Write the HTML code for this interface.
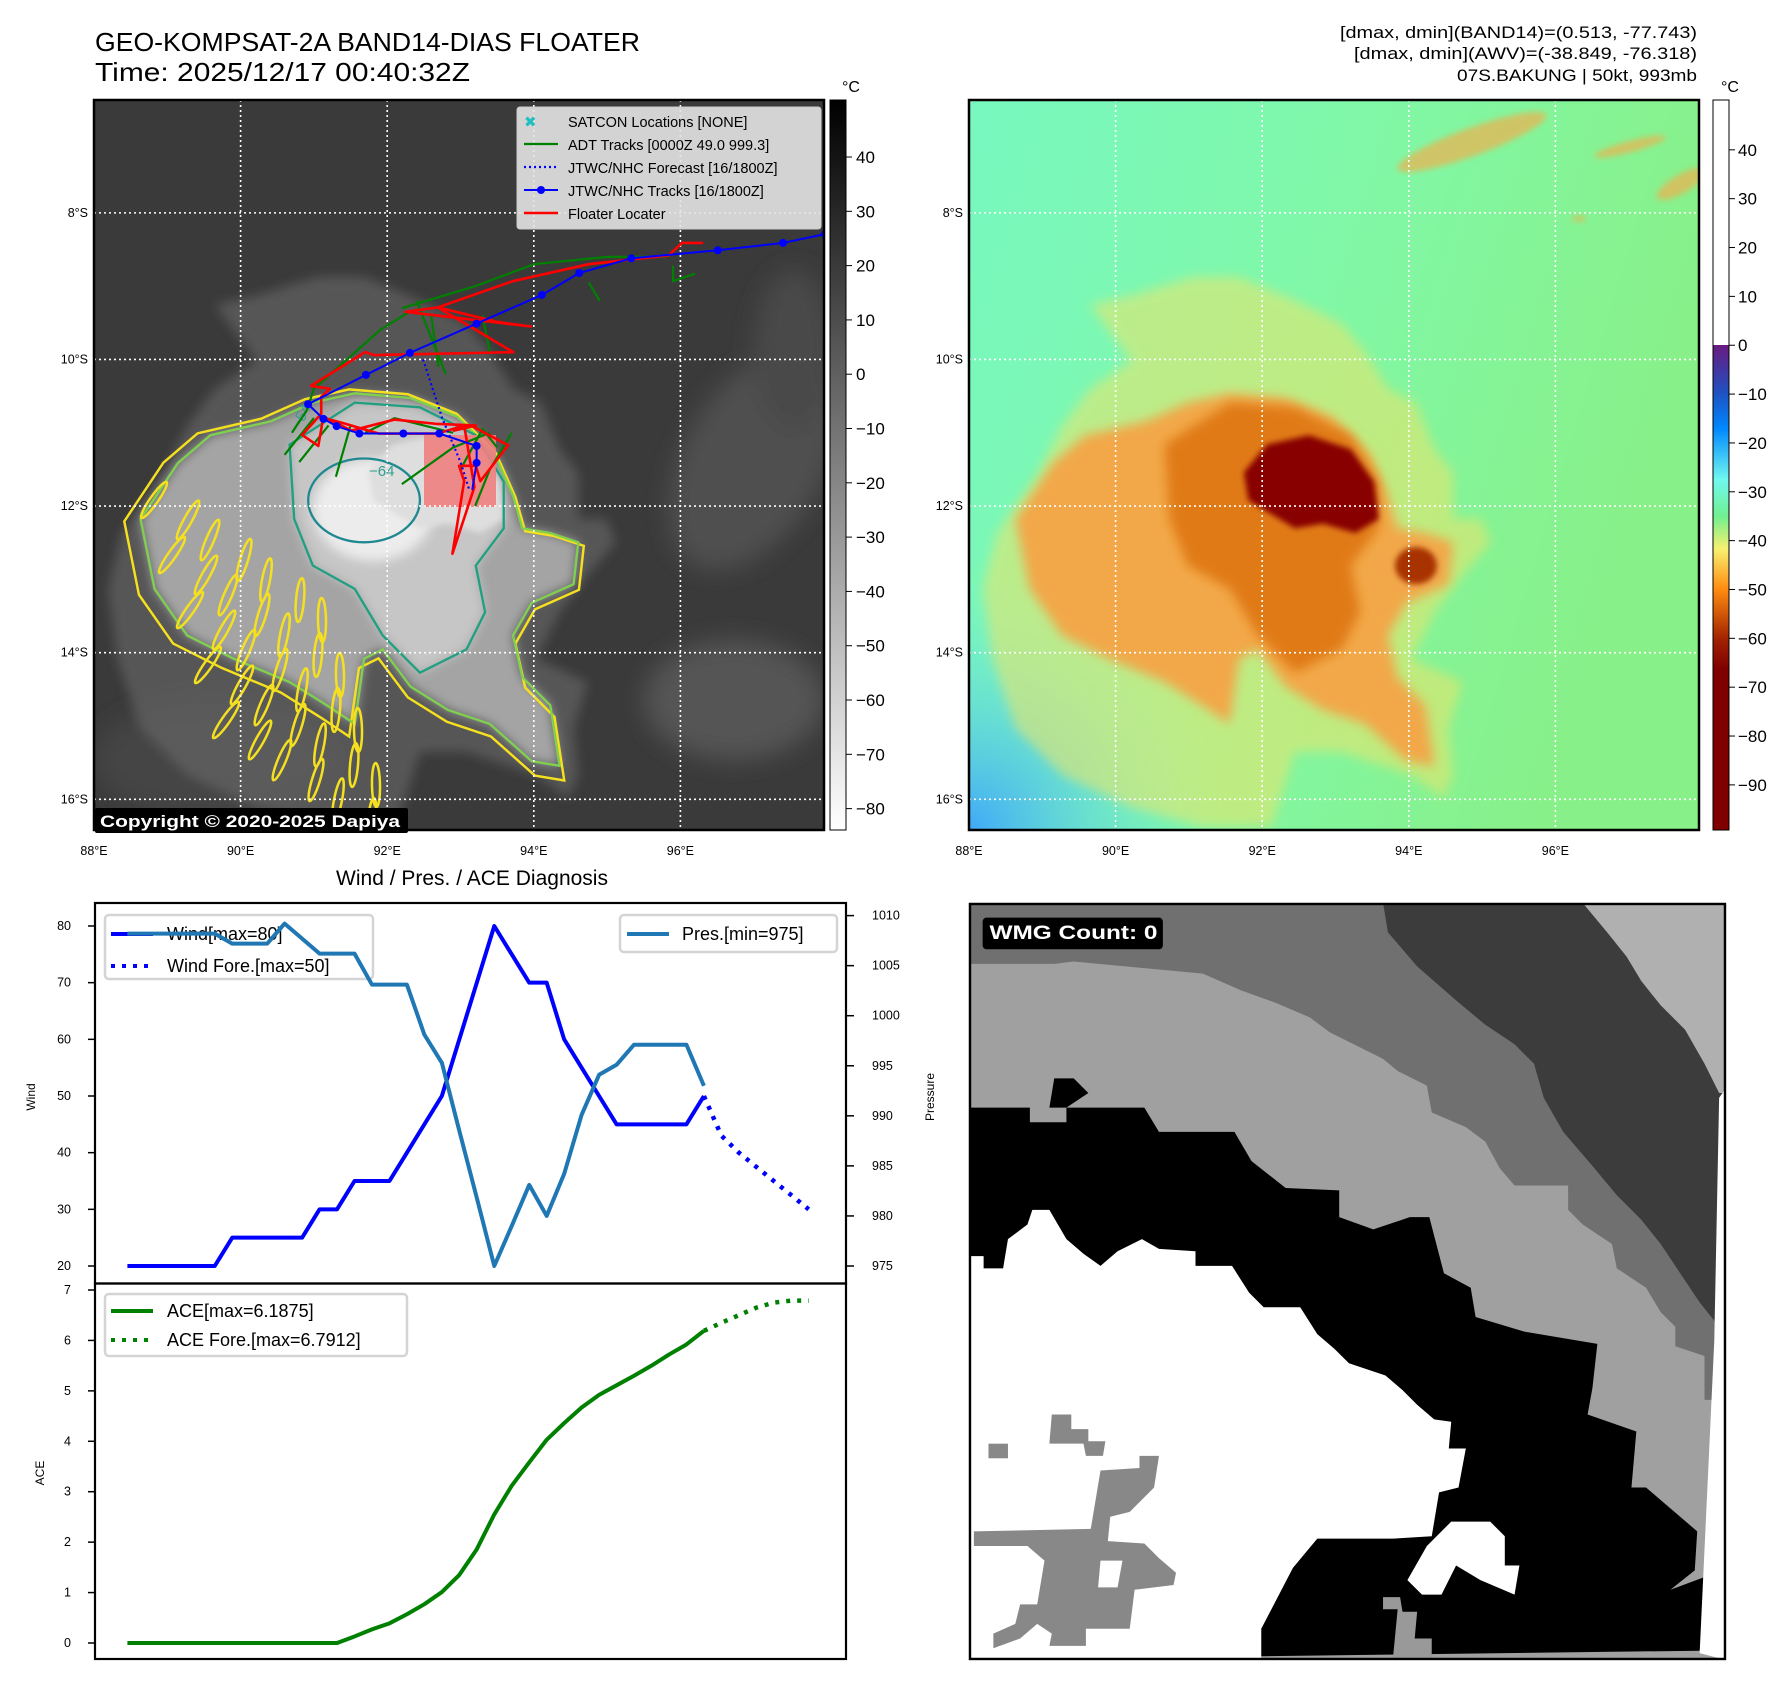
<!DOCTYPE html>
<html><head><meta charset="utf-8">
<style>
html,body{margin:0;padding:0;background:#fff;}
svg{display:block;font-family:"Liberation Sans","DejaVu Sans",sans-serif;}
</style></head>
<body>
<svg id="fig" width="1788" height="1690" viewBox="0 0 1788 1690" xmlns="http://www.w3.org/2000/svg">
<defs>
  <clipPath id="mapclip"><rect x="0" y="0" width="730" height="730"/></clipPath>
  <clipPath id="wmgclip"><rect x="0" y="0" width="1554" height="1554"/></clipPath>
  <filter id="blur6" x="-20%" y="-20%" width="140%" height="140%"><feGaussianBlur stdDeviation="12"/></filter>
  <filter id="blur3" x="-20%" y="-20%" width="140%" height="140%"><feGaussianBlur stdDeviation="6"/></filter>
  <linearGradient id="grayCbar" x1="0" y1="0" x2="0" y2="1"><stop offset="0" stop-color="#000"/><stop offset="1" stop-color="#fff"/></linearGradient>
  <linearGradient id="jetCbar" x1="0" y1="0" x2="0" y2="1">
    <stop offset="0" stop-color="#fff"/><stop offset="0.3357" stop-color="#fff"/>
    <stop offset="0.3358" stop-color="#6a1a80"/>
    <stop offset="0.40" stop-color="#2050c0"/>
    <stop offset="0.45" stop-color="#0088ff"/>
    <stop offset="0.52" stop-color="#70f8f0"/>
    <stop offset="0.57" stop-color="#70f090"/>
    <stop offset="0.615" stop-color="#f8f070"/>
    <stop offset="0.67" stop-color="#ff8c10"/>
    <stop offset="0.74" stop-color="#a02000"/>
    <stop offset="0.78" stop-color="#800000"/>
    <stop offset="1" stop-color="#800000"/>
  </linearGradient>
  <linearGradient id="greenBg" x1="0" y1="0" x2="1" y2="0.3">
    <stop offset="0" stop-color="#78f8c0"/><stop offset="0.5" stop-color="#80f8a8"/><stop offset="1" stop-color="#88f088"/>
  </linearGradient>
  <radialGradient id="blueCorner" cx="0" cy="1" r="0.35"><stop offset="0" stop-color="#40a8f8"/><stop offset="1" stop-color="#70f0e0" stop-opacity="0"/></radialGradient>
  <path id="fringe" d="M60,930 L150,800 200,700 260,620 350,560 260,440 350,420 480,380 580,380 700,430 800,480 850,540 900,620 960,650 1000,750 1040,800 1040,900 1100,900 1120,950 1060,1020 1000,1100 950,1200 1060,1250 1030,1350 1040,1450 1020,1500 950,1450 800,1400 700,1400 650,1560 500,1560 350,1520 200,1450 100,1350 50,1200 30,1050 Z"/>
  <path id="mainS" d="M100,900 L180,780 250,720 380,690 470,650 560,630 680,640 780,680 860,760 900,850 920,920 980,930 1040,950 1030,1040 940,1080 900,1150 920,1240 980,1300 1000,1430 940,1420 850,1340 760,1310 680,1260 620,1180 580,1200 560,1340 500,1300 420,1250 300,1200 200,1150 130,1050 Z"/>
  <path id="innerS" d="M420,740 L560,650 700,660 820,720 880,820 880,920 820,1000 840,1100 800,1180 700,1230 620,1150 560,1050 470,1000 430,900 Z"/>
  <path id="coreS" d="M590,800 L640,740 730,720 820,750 870,820 880,900 830,930 760,910 700,920 650,890 600,860 Z"/>
</defs>

<text x="95" y="51" font-size="26" textLength="545" lengthAdjust="spacingAndGlyphs">GEO-KOMPSAT-2A BAND14-DIAS FLOATER</text>
<text x="95" y="81" font-size="26" textLength="375" lengthAdjust="spacingAndGlyphs">Time: 2025/12/17 00:40:32Z</text>
<text x="1697" y="38" font-size="17" text-anchor="end" textLength="357" lengthAdjust="spacingAndGlyphs">[dmax, dmin](BAND14)=(0.513, -77.743)</text>
<text x="1697" y="59" font-size="17" text-anchor="end" textLength="343" lengthAdjust="spacingAndGlyphs">[dmax, dmin](AWV)=(-38.849, -76.318)</text>
<text x="1697" y="81" font-size="17" text-anchor="end" textLength="240" lengthAdjust="spacingAndGlyphs">07S.BAKUNG | 50kt, 993mb</text>

<g id="leftMap" transform="translate(94,100)">
  <g clip-path="url(#mapclip)">
    <rect width="730" height="730" fill="#3a3a3a"/>
    <g filter="url(#blur6)">
      <ellipse cx="660" cy="360" rx="70" ry="120" fill="#505050" transform="rotate(30 660 360)"/>
      <ellipse cx="640" cy="600" rx="90" ry="60" fill="#555"/>
      <ellipse cx="700" cy="250" rx="40" ry="80" fill="#484848"/>
      <ellipse cx="120" cy="660" rx="120" ry="60" fill="#454545"/>
    </g>
    <g transform="scale(0.4656)">
      <use href="#fringe" fill="#6a6a6a" opacity="0.6" filter="url(#blur6)"/>
      <use href="#mainS" fill="#a4a4a4" filter="url(#blur6)"/>
      <use href="#innerS" fill="#c6c6c6" filter="url(#blur6)"/>
      <ellipse cx="600" cy="880" rx="130" ry="110" fill="#ececec" filter="url(#blur6)"/>
      <use href="#coreS" fill="#dedede" filter="url(#blur3)"/>
    </g>
    <g transform="scale(0.4656)" fill="none">
      <use href="#mainS" stroke="#f5e020" stroke-width="5" transform="translate(-40,-40) scale(1.05)"/>
      <use href="#mainS" stroke="#80d050" stroke-width="5"/>
      <use href="#innerS" stroke="#20a080" stroke-width="5"/>
      <ellipse cx="580" cy="860" rx="120" ry="90" stroke="#208890" stroke-width="5"/>
    </g>
    <g id="streaks" fill="none" stroke="#f5e020" stroke-width="2.5"></g>
    <text x="205" y="330" font-size="15" fill="#30a090" transform="rotate(-60 205 330)">−54</text>
    <text x="275" y="376" font-size="15" fill="#30a090">−64</text>
    <rect x="330" y="335" width="72" height="72" fill="#f08080" opacity="0.9"/>
    <g id="leftGrid"></g>
    <g id="tracks"></g>
  </g>
  <rect x="0" y="0" width="730" height="730" fill="none" stroke="#000" stroke-width="2.5"/>
  <rect x="1" y="708" width="313" height="25" rx="2" fill="#000"/>
  <text x="6" y="727" font-size="17" font-weight="bold" fill="#fff" textLength="300" lengthAdjust="spacingAndGlyphs">Copyright © 2020-2025 Dapiya</text>
  <g>
    <rect x="423" y="7" width="304" height="122" rx="3" fill="#e4e4e4" fill-opacity="0.9" stroke="#ccc"/>
    <text x="430" y="27" font-size="15" fill="#20c0c0">✖</text>
    <text x="474" y="27" font-size="14.5">SATCON Locations [NONE]</text>
    <line x1="430" y1="44" x2="464" y2="44" stroke="#008000" stroke-width="2.2"/>
    <text x="474" y="50" font-size="14.5">ADT Tracks [0000Z 49.0 999.3]</text>
    <line x1="430" y1="67" x2="464" y2="67" stroke="#0000ff" stroke-width="2.2" stroke-dasharray="2,3"/>
    <text x="474" y="73" font-size="14.5">JTWC/NHC Forecast [16/1800Z]</text>
    <line x1="430" y1="90" x2="464" y2="90" stroke="#0000ff" stroke-width="2"/>
    <circle cx="447" cy="90" r="4" fill="#0000ff"/>
    <text x="474" y="96" font-size="14.5">JTWC/NHC Tracks [16/1800Z]</text>
    <line x1="430" y1="113" x2="464" y2="113" stroke="#ff0000" stroke-width="2.5"/>
    <text x="474" y="119" font-size="14.5">Floater Locater</text>
  </g>
  <g id="leftTicks"></g>
</g>
<rect x="830" y="100" width="16" height="730" fill="url(#grayCbar)" stroke="#000" stroke-width="1"/>
<text x="842" y="92" font-size="16">°C</text>
<g id="leftCbarTicks"></g>

<g id="rightMap" transform="translate(969,100)">
  <g clip-path="url(#mapclip)">
    <rect width="730" height="730" fill="url(#greenBg)"/>
    <rect width="730" height="730" fill="url(#blueCorner)"/>
    <g transform="scale(0.4656)">
      <use href="#fringe" fill="#f0e46a" opacity="0.55" filter="url(#blur6)"/>
      <use href="#mainS" fill="#f2a848" filter="url(#blur6)"/>
      <use href="#innerS" fill="#e07a18" filter="url(#blur6)"/>
      <use href="#coreS" fill="#880000" filter="url(#blur3)"/>
      <ellipse cx="960" cy="1000" rx="45" ry="40" fill="#a83000" filter="url(#blur3)"/>
      <g fill="#f0b050" opacity="0.7" filter="url(#blur3)">
        <ellipse cx="1080" cy="90" rx="170" ry="30" transform="rotate(-20 1080 90)"/>
        <ellipse cx="1420" cy="100" rx="80" ry="12" transform="rotate(-15 1420 100)"/>
        <ellipse cx="1530" cy="180" rx="60" ry="20" transform="rotate(-30 1530 180)"/>
        <ellipse cx="1310" cy="255" rx="15" ry="6"/>
      </g>
    </g>
    <g id="rightGrid"></g>
  </g>
  <rect x="0" y="0" width="730" height="730" fill="none" stroke="#000" stroke-width="2.5"/>
  <g id="rightTicks"></g>
</g>
<rect x="1713" y="100" width="16" height="730" fill="url(#jetCbar)" stroke="#000" stroke-width="1"/>
<text x="1721" y="92" font-size="16">°C</text>
<g id="rightCbarTicks"></g>

<text x="472" y="885" font-size="21" text-anchor="middle">Wind / Pres. / ACE Diagnosis</text>
<g id="chart"></g>

<g transform="translate(969,903) scale(0.4871)">
  <g clip-path="url(#wmgclip)">
    <rect width="1554" height="1554" fill="#3c3c3c"/>
    <polygon fill="#707070" points="0,0 850,0 860,60 920,130 1000,200 1060,250 1120,290 1160,330 1180,400 1220,470 1280,540 1330,600 1380,650 1420,700 1460,760 1500,820 1540,870 1554,870 1554,1554 0,1554"/>
    <polygon fill="#b0b0b0" points="1260,0 1554,0 1554,390 1540,390 1510,330 1470,260 1420,210 1380,160 1350,110 1310,60"/>
    <polygon fill="#a0a0a0" points="0,125 175,125 215,120 480,145 560,180 630,205 700,235 740,265 850,320 880,345 940,375 950,430 1020,460 1060,490 1090,545 1120,580 1230,580 1230,630 1260,660 1320,700 1330,750 1390,790 1420,840 1450,870 1450,910 1510,930 1510,1020 1554,1020 1554,1554 0,1554"/>
    <polygon fill="#000" points="0,420 125,420 125,450 200,450 200,420 245,390 215,360 175,360 165,420 360,420 390,470 545,470 580,530 650,585 760,590 760,645 830,670 905,645 945,645 975,760 1030,790 1040,850 1140,880 1290,905 1280,995 1270,1050 1370,1085 1360,1200 1390,1200 1460,1260 1495,1290 1490,1370 1440,1410 1520,1380 1500,1535 0,1554"/>
    <polygon fill="#fff" points="0,725 30,725 30,750 70,750 80,690 120,660 130,630 165,630 200,690 235,720 270,745 305,715 355,690 390,710 465,715 465,745 540,745 575,800 605,830 680,830 715,885 750,915 780,945 855,970 890,1000 920,1030 955,1060 990,1065 985,1120 1020,1120 1005,1200 965,1210 950,1300 870,1305 715,1305 665,1365 600,1490 600,1554 0,1554"/>
    <polygon fill="#fff" points="990,1270 1070,1270 1100,1300 1100,1360 1130,1360 1120,1420 1050,1390 1000,1360 970,1420 930,1420 900,1390 940,1320"/>
    <polygon fill="#fff" points="1554,380 1540,400 1530,900 1500,1540 1554,1554"/>
    <polygon fill="#888" points="350,1135 390,1135 380,1200 330,1250 290,1260 285,1310 360,1315 390,1345 425,1375 420,1400 340,1410 330,1490 240,1490 240,1525 165,1525 170,1500 140,1480 105,1510 50,1530 50,1500 95,1480 105,1440 140,1440 155,1350 120,1320 10,1320 10,1290 250,1285 270,1165 350,1160"/>
    <polygon fill="#fff" points="270,1350 315,1350 305,1405 265,1405"/>
    <polygon fill="#888" points="170,1050 210,1050 210,1080 245,1080 245,1105 280,1105 275,1135 240,1135 235,1110 165,1110"/>
    <rect x="40" y="1110" width="40" height="30" fill="#888"/>
    <polygon fill="#999" points="850,1425 885,1425 890,1455 920,1455 915,1510 950,1510 950,1554 870,1554 880,1450 850,1450"/>
  </g>
  <rect x="2" y="2" width="1550" height="1550" fill="none" stroke="#000" stroke-width="5"/>
  <rect x="28" y="30" width="370" height="65" rx="8" fill="#000"/>
  <text x="42" y="74" font-size="40" font-weight="bold" fill="#fff" textLength="345" lengthAdjust="spacingAndGlyphs">WMG Count: 0</text>
</g>
</svg>

<script>
const windIdx = [0,1,2,3,4,5,6,7,8,9,10,11,12,13,14,15,16,17,18,19,20,21,22,23,24,25,26,27,28,29,30,31,32,33];
const windVals = [20,20,20,20,20,20,25,25,25,25,25,30,30,35,35,35,40,45,50,60,70,80,75,70,70,60,55,50,45,45,45,45,45,50];
const windForeIdx = [33,34,35,36,37,38,39];
const windForeVals = [50,43,40,37.5,35,32.5,30];
const presVals = [1008.2,1008.2,1008.2,1008.2,1008.2,1008.2,1007.2,1007.2,1007.2,1009.2,1007.7,1006.2,1006.2,1006.2,1003.1,1003.1,1003.1,998.1,995.3,988.5,981.8,975,979,983.1,980,984.2,990.1,994.1,995.1,997.1,997.1,997.1,997.1,993];
const aceVals = [0,0,0,0,0,0,0,0,0,0,0,0,0,0.13,0.27,0.39,0.57,0.77,1.01,1.35,1.86,2.55,3.12,3.58,4.03,4.36,4.67,4.92,5.11,5.30,5.50,5.72,5.92,6.19];
const aceForeVals = [6.19,6.35,6.5,6.65,6.75,6.79,6.79];
const windTicks = [20,30,40,50,60,70,80];
const presTicks = [975,980,985,990,995,1000,1005,1010];
const aceTicks = [0,1,2,3,4,5,6,7];

const lonTicks = [88,90,92,94,96];
const latTicks = [8,10,12,14,16];
const irCbarTicks = [40,30,20,10,0,-10,-20,-30,-40,-50,-60,-70,-80];
const awvCbarTicks = [40,30,20,10,0,-10,-20,-30,-40,-50,-60,-70,-80,-90];
const jtwcLon = [97.97,97.40,96.51,95.33,94.62,94.11,93.22,92.31,91.71,90.92,91.13,91.31,91.62,92.22,92.71,93.22,93.22];
const jtwcLat = [8.29,8.41,8.51,8.62,8.82,9.12,9.51,9.91,10.21,10.61,10.81,10.91,11.01,11.01,11.01,11.18,11.41];
const fcLon = [92.49,92.75,93.0,93.12];
const fcLat = [10.0,10.8,11.4,11.78];
const floaterLon = [96.31,96.02,95.84,94.75,93.72,92.69,92.25,93.96,93.52,92.69,93.72,91.82,91.70,90.96,91.22,91.10,91.10,90.84,91.06,91.13,91.51,92.10,92.69,93.21,92.91,93.14,93.65,93.27,93.21,92.98,93.05,92.89,93.19,93.05,92.69,92.25,91.88,91.37,91.06];
const floaterLat = [8.41,8.41,8.58,8.70,8.93,9.29,9.35,9.55,9.49,9.29,9.90,9.94,9.90,10.36,10.40,10.51,10.74,11.03,11.18,10.78,10.97,10.82,10.88,10.90,10.97,10.90,11.17,11.66,11.45,11.45,11.66,12.65,11.74,10.90,11.01,11.01,11.01,10.86,10.78];
const adtSegs = [
  [[96.2,8.83],[95.9,8.93],[95.9,8.72]],
  [[94.9,9.2],[94.75,8.95]],
  [[92.3,9.35],[91.9,9.6],[91.0,10.4],[90.9,10.7],[90.7,11.0]],
  [[92.2,9.3],[93.2,9.0],[94.0,8.7],[95.0,8.6],[95.8,8.6]],
  [[92.4,9.2],[92.8,10.2]],[[92.6,9.4],[92.7,10.1]],
  [[91.2,10.9],[90.8,11.4]],[[91.0,10.8],[90.6,11.3]],[[91.5,10.9],[91.3,11.6]],
  [[91.7,11.0],[92.1,10.8],[92.5,10.9],[92.9,11.0]],
  [[92.2,11.7],[92.9,11.2],[93.4,11.0]],[[93.0,11.5],[93.3,10.95],[93.5,11.2]],
  [[93.2,12.0],[93.4,11.5],[93.7,11.0]],[[93.3,9.4],[93.4,9.9]]
];

const NS = 'http://www.w3.org/2000/svg';
function mk(tag, attrs, parent){
  const e = document.createElementNS(NS, tag);
  for (const k in attrs) e.setAttribute(k, attrs[k]);
  parent.appendChild(e);
  return e;
}
const lx = lon => (lon-88)*73.3;
const ly = lat => (lat-6.46)*73.3;

['left','right'].forEach(side=>{
  const grid = document.getElementById(side+'Grid');
  const ticks = document.getElementById(side+'Ticks');
  lonTicks.forEach(lon=>{
    if (lon>88){
      const g = mk('line',{x1:lx(lon),y1:0,x2:lx(lon),y2:730,stroke:'#fff','stroke-width':1.6,'stroke-dasharray':'2,3'},grid);
      
      
    }
    const t = mk('text',{x:lx(lon),y:755,'font-size':12.5,'text-anchor':'middle'},ticks);
    t.textContent = lon+'°E';
    
    
  });
  latTicks.forEach(lat=>{
    const g = mk('line',{x1:0,y1:ly(lat),x2:730,y2:ly(lat),stroke:'#fff','stroke-width':1.6,'stroke-dasharray':'2,3'},grid);
    
    
    const t = mk('text',{x:-6,y:ly(lat)+4,'font-size':12.5,'text-anchor':'end'},ticks);
    t.textContent = lat+'°S';
    
    
  });
});

const irCb = document.getElementById('leftCbarTicks');
irCbarTicks.forEach(v=>{
  const y = 100 + (50.5 - v)*5.43;
  const l = mk('line',{x1:846,y1:y,x2:852,y2:y,stroke:'#000','stroke-width':1},irCb);
  
  
  const t = mk('text',{x:856,y:y+6,'font-size':17},irCb);
  t.textContent = (v<0?'\u2212'+(-v):v);
  
  
});
const awCb = document.getElementById('rightCbarTicks');
awvCbarTicks.forEach(v=>{
  const y = 100 + (50.2 - v)*4.885;
  const l = mk('line',{x1:1729,y1:y,x2:1735,y2:y,stroke:'#000','stroke-width':1},awCb);
  
  
  const t = mk('text',{x:1738,y:y+6,'font-size':17},awCb);
  t.textContent = (v<0?'\u2212'+(-v):v);
  
  
});

const st = document.getElementById('streaks');
for (let r=0;r<5;r++){
  for (let c=0;c<7;c++){
    const x = 60 + c*28 + r*18 + (c%2)*6;
    const y = 400 + r*55 + c*20;
    if (x>270 && y<520) continue;
    const e = mk('ellipse',{cx:x,cy:y,rx:4,ry:22,transform:'rotate('+(35-c*6)+' '+x+' '+y+')'},st);
    
    
  }
}

const tr = document.getElementById('tracks');
adtSegs.forEach(seg=>{
  const p = mk('polyline',{points:seg.map(q=>lx(q[0])+','+ly(q[1])).join(' '),fill:'none',stroke:'#008000','stroke-width':2.2},tr);
  
  
});
const fl = mk('polyline',{points:floaterLon.map((v,i)=>lx(v)+','+ly(floaterLat[i])).join(' '),fill:'none',stroke:'#ff0000','stroke-width':2.6,'stroke-linejoin':'round'},tr);


const fc = mk('polyline',{points:fcLon.map((v,i)=>lx(v)+','+ly(fcLat[i])).join(' '),fill:'none',stroke:'#0000ff','stroke-width':2.2,'stroke-dasharray':'2,3'},tr);


const jt = mk('polyline',{points:jtwcLon.map((v,i)=>lx(v)+','+ly(jtwcLat[i])).join(' ')+' '+lx(93.16)+','+ly(11.78),fill:'none',stroke:'#0000ff','stroke-width':2},tr);


jtwcLon.forEach((v,i)=>{
  const d = mk('circle',{cx:lx(v),cy:ly(jtwcLat[i]),r:4,fill:'#0000ff'},tr);
  
  
});

const ch = document.getElementById('chart');
const AX_L=95, AX_R=846, AX_T=903, AX_MID=1283.5, AX_B=1659;
const xOf = i => 127.4 + i*17.47;
const yWind = v => 1266 - (v-20)*(340/60);
const yPres = p => 1266 - (p-975)*(350.4/35);
const yAce = a => 1643 - a*(353/7);

const f1 = mk('rect',{x:AX_L,y:AX_T,width:AX_R-AX_L,height:AX_MID-AX_T,fill:'none',stroke:'#000','stroke-width':2.2},ch);


const f2 = mk('rect',{x:AX_L,y:AX_MID,width:AX_R-AX_L,height:AX_B-AX_MID,fill:'none',stroke:'#000','stroke-width':2.2},ch);



windTicks.forEach(v=>{
  const l = mk('line',{x1:AX_L-7,y1:yWind(v),x2:AX_L,y2:yWind(v),stroke:'#000','stroke-width':1.5},ch);
  
  
  const t = mk('text',{x:AX_L-24,y:yWind(v)+4,'font-size':12.5,'text-anchor':'end'},ch);
  t.textContent = v;
  
  
});
presTicks.forEach(v=>{
  const l = mk('line',{x1:AX_R,y1:yPres(v),x2:AX_R+8,y2:yPres(v),stroke:'#000','stroke-width':1.5},ch);
  
  
  const t = mk('text',{x:AX_R+26,y:yPres(v)+4,'font-size':12.5},ch);
  t.textContent = v;
  
  
});
aceTicks.forEach(v=>{
  const l = mk('line',{x1:AX_L-7,y1:yAce(v),x2:AX_L,y2:yAce(v),stroke:'#000','stroke-width':1.5},ch);
  
  
  const t = mk('text',{x:AX_L-24,y:yAce(v)+4,'font-size':12.5,'text-anchor':'end'},ch);
  t.textContent = v;
  
  
});
const wl = mk('text',{x:35,y:1097,'font-size':12,'text-anchor':'middle',transform:'rotate(-90 35 1097)'},ch);
wl.textContent='Wind';


const pl = mk('text',{x:934,y:1097,'font-size':12,'text-anchor':'middle',transform:'rotate(-90 934 1097)'},ch);
pl.textContent='Pressure';


const al = mk('text',{x:44,y:1473,'font-size':12,'text-anchor':'middle',transform:'rotate(-90 44 1473)'},ch);
al.textContent='ACE';



const pts = (idx, vals, yf) => vals.map((v,i)=>xOf(idx[i])+','+yf(v)).join(' ');
const allIdx = windIdx;

const wlg = mk('rect',{x:105,y:915,width:268,height:64,rx:4,fill:'#fff','fill-opacity':0.8,stroke:'#d4d4d4','stroke-width':2.5},ch);


const wl1 = mk('line',{x1:111,y1:934,x2:153,y2:934,stroke:'#0000ff','stroke-width':4},ch);


const wt1 = mk('text',{x:167,y:940,'font-size':18},ch);
wt1.textContent='Wind[max=80]';


const wl2 = mk('line',{x1:111,y1:966,x2:153,y2:966,stroke:'#0000ff','stroke-width':4,'stroke-dasharray':'4,7'},ch);


const wt2 = mk('text',{x:167,y:972,'font-size':18},ch);
wt2.textContent='Wind Fore.[max=50]';



const wLine = mk('polyline',{points:pts(windIdx,windVals,yWind),fill:'none',stroke:'#0000ff','stroke-width':4,'stroke-linejoin':'round'},ch);


const wfLine = mk('polyline',{points:pts(windForeIdx,windForeVals,yWind),fill:'none',stroke:'#0000ff','stroke-width':4.5,'stroke-dasharray':'4,7'},ch);


const pLine = mk('polyline',{points:pts(allIdx,presVals,yPres),fill:'none',stroke:'#1f77b4','stroke-width':4,'stroke-linejoin':'round'},ch);



const plg = mk('rect',{x:620,y:915,width:217,height:37,rx:4,fill:'#fff','fill-opacity':0.8,stroke:'#d4d4d4','stroke-width':2.5},ch);


const pl1 = mk('line',{x1:627,y1:934,x2:669,y2:934,stroke:'#1f77b4','stroke-width':4},ch);


const pt1 = mk('text',{x:682,y:940,'font-size':18},ch);
pt1.textContent='Pres.[min=975]';



const aLine = mk('polyline',{points:pts(allIdx,aceVals,yAce),fill:'none',stroke:'#008000','stroke-width':4,'stroke-linejoin':'round'},ch);


const afLine = mk('polyline',{points:pts(windForeIdx,aceForeVals,yAce),fill:'none',stroke:'#008000','stroke-width':4.5,'stroke-dasharray':'4,7'},ch);



const alg = mk('rect',{x:105,y:1294,width:302,height:62,rx:4,fill:'#fff','fill-opacity':0.8,stroke:'#d4d4d4','stroke-width':2.5},ch);


const al1 = mk('line',{x1:111,y1:1311,x2:153,y2:1311,stroke:'#008000','stroke-width':4},ch);


const at1 = mk('text',{x:167,y:1317,'font-size':18},ch);
at1.textContent='ACE[max=6.1875]';


const al2 = mk('line',{x1:111,y1:1340,x2:153,y2:1340,stroke:'#008000','stroke-width':4,'stroke-dasharray':'4,7'},ch);


const at2 = mk('text',{x:167,y:1346,'font-size':18},ch);
at2.textContent='ACE Fore.[max=6.7912]';


</script>
</body></html>
